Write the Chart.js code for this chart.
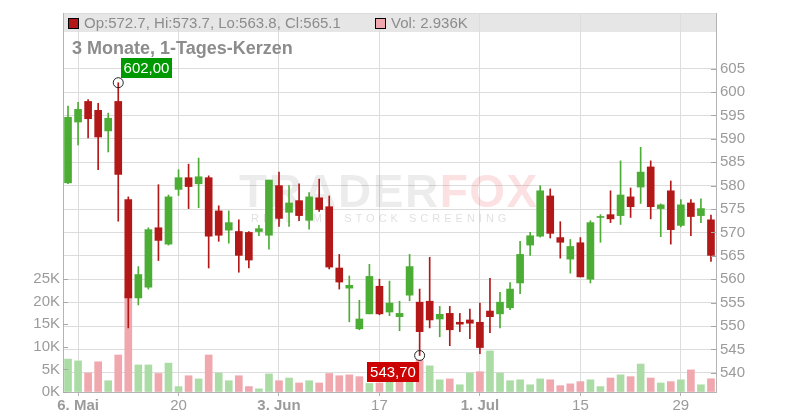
<!DOCTYPE html>
<html>
<head>
<meta charset="utf-8">
<script src="https://cdn.jsdelivr.net/npm/chart.js@4/dist/chart.umd.min.js"></script>
<style>
  html, body { margin: 0; padding: 0; background: #fff; }
  canvas { display: block; }
</style>
</head>
<body>
<canvas id="chart" width="800" height="420"></canvas>
<script>
// Trading days, 3 May - 1 Aug
const days = [
    '03.05',
    '06.05', '07.05', '08.05', '09.05', '10.05',
    '13.05', '14.05', '15.05', '16.05', '17.05',
    '20.05', '21.05', '22.05', '23.05', '24.05',
    '27.05', '28.05', '29.05', '30.05', '31.05',
    '03.06', '04.06', '05.06', '06.06', '07.06',
    '10.06', '11.06', '12.06', '13.06', '14.06',
    '17.06', '18.06', '19.06', '20.06', '21.06',
    '24.06', '25.06', '26.06', '27.06', '28.06',
    '01.07', '02.07', '03.07', '04.07', '05.07',
    '08.07', '09.07', '10.07', '11.07', '12.07',
    '15.07', '16.07', '17.07', '18.07', '19.07',
    '22.07', '23.07', '24.07', '25.07', '26.07',
    '29.07', '30.07', '31.07', '01.08'
];

const opens = [
    580.6, 593.6, 598.0, 596.1, 591.7, 598.0, 577.0, 556.0, 558.3, 571.0,
    567.5, 579.2, 581.7, 580.4, 581.7, 574.6, 570.5, 570.2, 570.0, 570.2,
    569.4, 580.0, 574.3, 576.8, 572.6, 577.4, 575.5, 562.4, 558.1, 549.4,
    552.6, 558.5, 553.0, 552.0, 556.6, 555.1, 555.3, 551.5, 552.7, 550.8,
    551.3, 550.8, 553.2, 552.6, 553.9, 559.2, 567.3, 569.2, 577.8, 568.9,
    564.3, 567.8, 560.0, 573.2, 573.8, 573.6, 577.6, 579.7, 584.0, 575.1,
    578.9, 571.5, 576.3, 573.6, 572.7
];
const highs = [
    597.0, 597.8, 598.4, 597.6, 595.5, 602.0, 577.6, 562.7, 571.0, 580.2,
    578.0, 583.4, 584.6, 585.9, 582.1, 575.7, 574.6, 572.7, 570.2, 571.5,
    581.2, 582.9, 580.0, 580.4, 578.5, 581.4, 577.8, 565.3, 560.7, 555.5,
    563.2, 560.0, 559.6, 555.3, 565.3, 557.9, 564.7, 554.2, 554.2, 552.7,
    553.6, 554.9, 560.2, 557.2, 559.3, 568.1, 570.0, 580.0, 579.3, 572.3,
    568.5, 568.9, 572.5, 573.8, 578.9, 585.3, 579.5, 588.2, 585.3, 576.1,
    581.0, 577.0, 577.0, 577.2, 573.7
];
const lows = [
    580.4, 588.7, 590.2, 583.4, 587.2, 572.4, 549.6, 554.5, 557.9, 564.0,
    567.3, 577.9, 575.1, 575.3, 562.4, 568.1, 567.7, 561.5, 562.4, 569.3,
    566.4, 571.3, 571.3, 572.5, 570.7, 574.5, 562.2, 557.9, 550.9, 549.2,
    552.6, 552.4, 552.2, 549.0, 555.4, 543.7, 549.6, 547.7, 545.8, 548.8,
    547.3, 544.1, 548.6, 549.6, 553.5, 556.9, 565.1, 569.0, 568.8, 564.5,
    561.3, 560.5, 559.2, 567.9, 572.1, 571.7, 573.2, 576.2, 572.9, 569.1,
    567.5, 571.2, 569.3, 572.1, 563.8
];
const closes = [
    594.6, 596.3, 594.3, 590.4, 594.4, 582.4, 556.0, 561.0, 570.6, 568.3,
    577.6, 581.7, 579.8, 581.9, 569.2, 569.4, 572.1, 565.1, 564.1, 570.8,
    581.2, 573.0, 576.3, 573.6, 577.6, 574.9, 562.6, 559.4, 558.7, 551.5,
    560.6, 552.6, 554.9, 552.7, 562.7, 548.8, 551.3, 552.5, 549.2, 550.4,
    550.6, 545.4, 552.0, 555.1, 557.9, 565.3, 569.3, 578.9, 569.8, 567.9,
    567.0, 560.5, 572.1, 573.4, 572.9, 578.0, 575.5, 582.9, 575.5, 575.9,
    570.6, 575.9, 573.4, 575.1, 565.1
];
const volumes = [
    7300, 6900, 4200, 6700, 2500, 8200, 22000, 6000, 6000, 4100,
    6400, 1200, 3600, 2900, 8200, 4200, 2500, 3600, 1200, 700,
    4000, 2500, 3100, 2000, 2500, 2000, 4100, 3600, 3800, 3400,
    1900, 2000, 3500, 2300, 4200, 7100, 5800, 2700, 2900, 1600,
    4200, 4500, 9100, 4200, 2500, 2700, 1600, 2900, 2700, 1400,
    1800, 2300, 2700, 1200, 3100, 3800, 3400, 6200, 3100, 2000,
    2300, 2700, 4900, 1600, 2936
];

// Axis ticks
const xTicks = ['06.05', '20.05', '03.06', '17.06', '01.07', '15.07', '29.07'];
const xTickText = ['6. Mai', '20', '3. Jun', '17', '1. Jul', '15', '29'];
const priceTicks = [540, 545, 550, 555, 560, 565, 570, 575, 580, 585, 590, 595, 600, 605];
const volumeTicks = [0, 5000, 10000, 15000, 20000, 25000];

const titleText = '3 Monate, 1-Tages-Kerzen';

// Colors
const upColor = '#4bad34';
const downColor = '#b31818';
const volUp = '#acdca6';
const volDown = '#f0a7ae';
const gridColor = '#dcdcdc';
const axisColor = '#b4b4b4';
const textColor = '#9b9b9b';
const FONT = '"Liberation Sans", Arial, sans-serif';

const candleColors = opens.map((o, i) => closes[i] >= o ? upColor : downColor);
const volColors = closes.map((c, i) => {
    const prev = i > 0 ? closes[i - 1] : opens[i];
    return c >= prev ? volUp : volDown;
});

// Find max high / min low for markers
let hiIdx = 0, loIdx = 0;
highs.forEach((h, i) => { if (h > highs[hiIdx]) hiIdx = i; });
lows.forEach((l, i) => { if (l < lows[loIdx]) loIdx = i; });

// Custom drawing: band, title, watermark, markers, inward ticks
const decorations = {
    id: 'decorations',
    beforeDraw(chart) {
        const { ctx, chartArea: a } = chart;
        ctx.save();
        ctx.fillStyle = '#e6e6e6';
        ctx.fillRect(a.left, a.top, a.right - a.left, 19);
        ctx.strokeStyle = gridColor;
        ctx.lineWidth = 1;
        ctx.beginPath();
        ctx.moveTo(a.left, a.top + 0.5);
        ctx.lineTo(a.right, a.top + 0.5);
        ctx.stroke();
        ctx.restore();
    },
    beforeDatasetsDraw(chart) {
        const { ctx } = chart;
        ctx.save();
        // watermark
        ctx.font = 'bold 46px ' + FONT;
        ctx.textBaseline = 'alphabetic';
        ctx.letterSpacing = '1.5px';
        ctx.fillStyle = 'rgba(0,0,0,0.075)';
        ctx.fillText('TRADER', 239, 207);
        const w = ctx.measureText('TRADER').width;
        ctx.fillStyle = 'rgba(235,70,80,0.16)';
        ctx.fillText('FOX', 239 + w, 207);
        ctx.font = '11px ' + FONT;
        ctx.fillStyle = 'rgba(0,0,0,0.13)';
        ctx.letterSpacing = '4px';
        ctx.fillText('REALTIME STOCK SCREENING', 251, 222);
        ctx.letterSpacing = '0px';
        ctx.restore();
    },
    afterDraw(chart) {
        const { ctx, chartArea: a, scales } = chart;
        const x = scales.x, y = scales.y, v = scales.vol;
        ctx.save();

        // inward tick marks
        ctx.strokeStyle = '#a8a8a8';
        ctx.lineWidth = 1;
        ctx.beginPath();
        priceTicks.forEach(p => {
            const py = Math.round(y.getPixelForValue(p)) + 0.5;
            ctx.moveTo(a.right - 5, py);
            ctx.lineTo(a.right, py);
        });
        volumeTicks.forEach(t => {
            const py = Math.round(v.getPixelForValue(t)) + 0.5;
            ctx.moveTo(a.left, py);
            ctx.lineTo(a.left + 5, py);
        });
        ctx.stroke();

        // legend band text
        const last = closes.length - 1;
        ctx.font = '15px ' + FONT;
        ctx.textBaseline = 'middle';
        ctx.fillStyle = downColor;
        ctx.fillRect(a.left + 5, a.top + 5, 10, 10);
        ctx.strokeStyle = '#000';
        ctx.strokeRect(a.left + 5.5, a.top + 5.5, 10, 10);
        ctx.fillStyle = '#8c8c8c';
        const ohlc = 'Op:' + opens[last].toFixed(1) + ', Hi:' + highs[last].toFixed(1) +
            ', Lo:' + lows[last].toFixed(1) + ', Cl:' + closes[last].toFixed(1);
        ctx.fillText(ohlc, a.left + 21, a.top + 10.5);
        ctx.fillStyle = volDown;
        ctx.fillRect(375, a.top + 5, 10, 10);
        ctx.strokeRect(375.5, a.top + 5.5, 10, 10);
        ctx.fillStyle = '#8c8c8c';
        ctx.fillText('Vol: ' + (volumes[last] / 1000).toFixed(3) + 'K', 391, a.top + 10.5);

        // title
        ctx.font = 'bold 18px ' + FONT;
        ctx.fillStyle = '#8c8c8c';
        ctx.textBaseline = 'alphabetic';
        ctx.fillText(titleText, 72, 54);

        // max / min markers
        ctx.font = '15px ' + FONT;
        ctx.textBaseline = 'middle';
        ctx.textAlign = 'center';
        const hx = x.getPixelForValue(hiIdx), hy = y.getPixelForValue(highs[hiIdx]);
        ctx.fillStyle = '#009a00';
        ctx.fillRect(Math.round(hx) + 3, Math.round(hy) - 25, 51, 20);
        ctx.fillStyle = '#fff';
        ctx.fillText(highs[hiIdx].toFixed(2).replace('.', ','), Math.round(hx) + 28.5, Math.round(hy) - 14.5);
        const lx = x.getPixelForValue(loIdx), ly = y.getPixelForValue(lows[loIdx]);
        ctx.fillStyle = '#cc0000';
        ctx.fillRect(Math.round(lx) - 53, Math.round(ly) + 6, 52, 20);
        ctx.fillStyle = '#fff';
        ctx.fillText(lows[loIdx].toFixed(2).replace('.', ','), Math.round(lx) - 27, Math.round(ly) + 16.5);
        ctx.strokeStyle = '#222';
        ctx.lineWidth = 1;
        [[hx, hy], [lx, ly]].forEach(([px, py]) => {
            ctx.beginPath();
            ctx.arc(px, py, 5, 0, Math.PI * 2);
            ctx.stroke();
        });
        ctx.restore();
    }
};

const ctx = document.getElementById('chart').getContext('2d');
new Chart(ctx, {
    type: 'bar',
    data: {
        labels: days,
        datasets: [
            {
                label: 'body',
                data: opens.map((o, i) => [o, closes[i]]),
                backgroundColor: candleColors,
                barThickness: 7,
                minBarLength: 1,
                grouped: false,
                yAxisID: 'y',
                order: 1
            },
            {
                label: 'wick',
                data: lows.map((l, i) => [l, highs[i]]),
                backgroundColor: candleColors,
                barThickness: 1,
                grouped: false,
                yAxisID: 'y',
                order: 2
            },
            {
                label: 'volume',
                data: volumes,
                backgroundColor: volColors,
                barThickness: 7,
                grouped: false,
                yAxisID: 'vol',
                order: 3
            }
        ]
    },
    options: {
        responsive: false,
        animation: false,
        events: [],
        layout: { padding: { top: 11, left: 0, right: 0, bottom: 0 } },
        plugins: {
            legend: { display: false },
            tooltip: { enabled: false }
        },
        scales: {
            x: {
                offset: true,
                grid: { offset: false, color: gridColor, tickLength: 4, tickColor: axisColor },
                border: { color: axisColor },
                ticks: {
                    autoSkip: false,
                    maxRotation: 0,
                    padding: 1,
                    color: textColor,
                    font: c => ({
                        family: FONT,
                        size: 15,
                        weight: c.tick && xTickText[xTicks.indexOf(days[c.tick.value])].includes('.') ? 'bold' : 'normal'
                    }),
                    callback: v => xTickText[xTicks.indexOf(days[v])]
                },
                afterBuildTicks: s => { s.ticks = s.ticks.filter(t => xTicks.includes(days[t.value])); },
                afterFit: s => { s.height = 28; }
            },
            y: {
                position: 'right',
                min: 535.9,
                max: 616.9,
                grid: { color: gridColor, drawTicks: false },
                border: { color: axisColor },
                ticks: { color: textColor, padding: 4, font: { family: FONT, size: 15 } },
                afterBuildTicks: s => { s.ticks = priceTicks.map(p => ({ value: p })); },
                afterFit: s => { s.width = 84; }
            },
            vol: {
                position: 'left',
                min: 0,
                max: 84000,
                grid: { drawOnChartArea: false, drawTicks: false },
                border: { color: axisColor },
                ticks: {
                    color: textColor,
                    padding: 3,
                    font: { family: FONT, size: 15 },
                    callback: v => (v / 1000) + 'K'
                },
                afterBuildTicks: s => { s.ticks = volumeTicks.map(t => ({ value: t })); },
                afterFit: s => { s.width = 63; }
            }
        }
    },
    plugins: [decorations]
});
</script>
</body>
</html>
